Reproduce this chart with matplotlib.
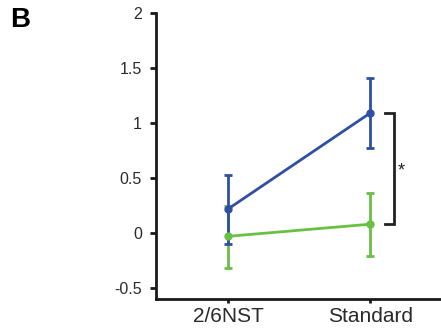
import matplotlib
matplotlib.use("Agg")
import matplotlib.pyplot as plt

plt.rcParams['font.family'] = ['Liberation Sans', 'DejaVu Sans']

categories = ["2/6NST", "Standard"]
blue_vals = [0.22, 1.09]
blue_err_low = [0.32, 0.32]
blue_err_high = [0.31, 0.32]
green_vals = [-0.03, 0.08]
green_err_low = [0.29, 0.29]
green_err_high = [0.28, 0.28]
yticks = [-0.5, 0, 0.5, 1, 1.5, 2]
ytick_labels = ["-0.5", "0", "0.5", "1", "1.5", "2"]

blue = "#2F4FA2"
green = "#6ABF45"

fig = plt.figure(figsize=(4.41, 3.33), dpi=100)
ax = fig.add_axes([156/441, 34/333, 285/441, 286/333])

x = [1, 2]
ax.errorbar(x, green_vals, yerr=[green_err_low, green_err_high], color=green,
            marker='o', markersize=5, lw=2, capsize=3, capthick=2, elinewidth=2)
ax.errorbar(x, blue_vals, yerr=[blue_err_low, blue_err_high], color=blue,
            marker='o', markersize=5, lw=2, capsize=3, capthick=2, elinewidth=2)

# significance bracket
bx0, bx1 = 2.105, 2.17
ax.plot([bx0, bx1, bx1, bx0], [blue_vals[1], blue_vals[1], green_vals[1], green_vals[1]],
        color="#222222", lw=2, solid_joinstyle='miter')
ax.text(2.22, 0.56, "*", fontsize=13, ha='center', va='center', color="#222222")

ax.set_xlim(0.49, 2.5)
ax.set_ylim(-0.6, 2.0)
ax.set_yticks(yticks)
ax.set_yticklabels(ytick_labels)
ax.set_xticks(x)
ax.set_xticklabels(categories)

for s in ['top', 'right']:
    ax.spines[s].set_visible(False)
for s in ['left', 'bottom']:
    ax.spines[s].set_linewidth(2)
    ax.spines[s].set_color("#1a1a1a")
ax.spines['left'].set_bounds(-0.6, 2.0)

ax.tick_params(axis='y', direction='out', length=4, width=2, labelsize=11.5,
               colors="#1a1a1a", pad=6)
ax.tick_params(axis='x', direction='out', length=3, width=2, labelsize=15,
               colors="#1a1a1a", pad=3)
for lab in ax.get_yticklabels() + ax.get_xticklabels():
    lab.set_color("#2a2a2a")

fig.text(10/441, 1 - 27/333, "B", fontsize=20, fontweight='bold', va='baseline', ha='left')

fig.savefig("out.png", dpi=100)
